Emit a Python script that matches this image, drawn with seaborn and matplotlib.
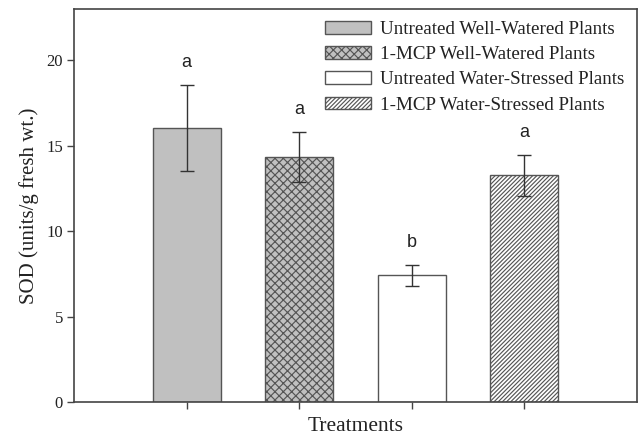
import matplotlib
matplotlib.use("Agg")
import matplotlib.pyplot as plt
import seaborn as sns
import pandas as pd
from matplotlib.patches import Patch

# Treatment groups, mean SOD activity, standard errors and significance letters
treatments = [
    "Untreated Well-Watered Plants",
    "1-MCP Well-Watered Plants",
    "Untreated Water-Stressed Plants",
    "1-MCP Water-Stressed Plants",
]
sod_mean = [16.04, 14.35, 7.43, 13.29]
sod_err = [2.54, 1.45, 0.62, 1.20]
letters = ["a", "a", "b", "a"]

fills = ["#c0c0c0", "#c0c0c0", "#ffffff", "#ffffff"]
hatches = [None, "xxxx", None, "////////"]
edge = "#555555"

sns.set_theme(style="white")
plt.rcParams["font.family"] = ["Liberation Serif", "DejaVu Serif"]
plt.rcParams["hatch.linewidth"] = 0.85
plt.rcParams["hatch.color"] = "#4a4a4a"

df = pd.DataFrame({"Treatment": treatments, "SOD": sod_mean})

fig = plt.figure(figsize=(6.38, 4.37), dpi=100)
ax = fig.add_axes([0.116, 0.080, 0.8824, 0.899])

sns.barplot(
    data=df, x="Treatment", y="SOD", hue="Treatment", order=treatments,
    hue_order=treatments, palette=dict(zip(treatments, fills)),
    dodge=False, width=0.605, errorbar=None, legend=False,
    edgecolor=edge, linewidth=1.0, saturation=1, ax=ax,
)

for container, h in zip(ax.containers, hatches):
    for bar in container:
        bar.set_edgecolor(edge)
        if h:
            bar.set_hatch(h)

xpos = list(range(len(treatments)))
ax.errorbar(xpos, sod_mean, yerr=sod_err, fmt="none", ecolor="#333333",
            elinewidth=1.0, capsize=4.7, capthick=1.0, zorder=5)

for x, m, e, t in zip(xpos, sod_mean, sod_err, letters):
    ax.text(x, m + e + 1.3, t, ha="center", va="center",
            fontsize=13, family=["Liberation Sans", "DejaVu Sans"], color="#222222")

ax.set_xlim(-1, 4)
ax.set_ylim(0, 23)
ax.set_yticks([0, 5, 10, 15, 20])
ax.set_xticks(xpos)
ax.set_xticklabels([])
ax.tick_params(axis="both", direction="out", length=5, width=1.0,
               color="#444444", labelsize=12, labelcolor="#222222",
               left=True, bottom=True, pad=3)
for s in ax.spines.values():
    s.set_color("#444444")
    s.set_linewidth(1.2)

ax.set_xlabel("Treatments", fontsize=15.5, color="#222222", labelpad=3)
ax.set_ylabel("SOD (units/g fresh wt.)", fontsize=15, color="#222222", labelpad=5)

handles = [Patch(facecolor=f, edgecolor=edge, hatch=h, linewidth=1.0)
           for f, h in zip(fills, hatches)]
ax.legend(handles, treatments, loc="upper left", bbox_to_anchor=(0.4458, 0.97),
          frameon=False, fontsize=13.7, handlelength=2.4, handleheight=0.65,
          handletextpad=0.5, labelspacing=0.43, borderpad=0, borderaxespad=0,
          labelcolor="#222222")

fig.savefig("out.png", dpi=100)
